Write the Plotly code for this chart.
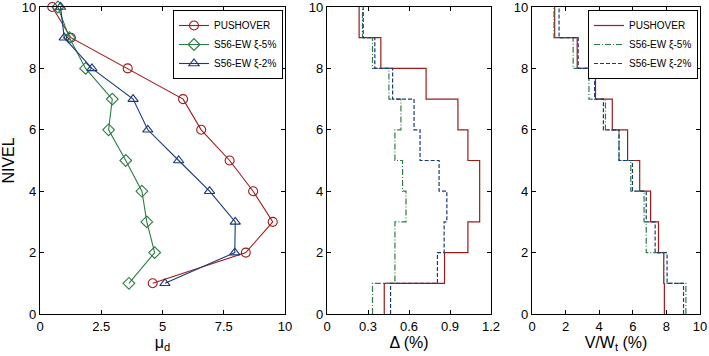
import plotly.graph_objects as go

# ---------------- data ----------------
niveles = [1, 2, 3, 4, 5, 6, 7, 8, 9, 10]
stories_edges = [0, 1, 2, 3, 4, 5, 6, 7, 8, 9, 10]

# Panel 1: ductility demand mu_d per level
mu_push = [4.6, 8.4, 9.5, 8.7, 7.74, 6.58, 5.84, 3.58, 1.26, 0.5]
mu_x5 = [3.63, 4.68, 4.36, 4.16, 3.5, 2.8, 2.95, 1.86, 1.2, 0.73]
mu_x2 = [5.1, 7.95, 7.97, 6.92, 5.66, 4.4, 3.8, 2.12, 0.99, 0.84]

# Panel 2: interstory drift (%) per story (story 1 .. 10)
drift_push = [0.419, 0.86, 1.031, 1.117, 1.117, 1.031, 0.958, 0.725, 0.394, 0.235]
drift_x5 = [0.333, 0.497, 0.497, 0.578, 0.553, 0.497, 0.541, 0.453, 0.333, 0.26]
drift_x2 = [0.465, 0.808, 0.857, 0.877, 0.82, 0.681, 0.637, 0.48, 0.35, 0.265]

# Panel 3: story shear V/Wt (%) per story
shear_push = [7.88, 7.84, 7.53, 7.06, 6.41, 5.69, 4.78, 3.78, 2.69, 1.35]
shear_x5 = [9.16, 7.84, 6.8, 6.67, 5.88, 5.18, 4.37, 3.39, 2.45, 1.31]
shear_x2 = [9.02, 8.04, 7.33, 6.8, 5.98, 5.18, 4.25, 3.73, 2.75, 1.61]

names = ["PUSHOVER", "S56-EW \u03be-5%", "S56-EW \u03be-2%"]
colors = ["#9E1B1B", "#2E7D46", "#1A3A7A"]
dashes = ["solid", "6px,2px,1px,2px", "4px,2px"]
symbols = ["circle-open", "diamond-open", "triangle-up-open"]

W, H = 709, 356
FONT = "Liberation Sans, Arial, sans-serif"

fig = go.Figure()

# Panel 1
for vals, nm, c, s in zip([mu_push, mu_x5, mu_x2], names, colors, symbols):
    fig.add_trace(go.Scatter(
        x=vals, y=niveles, mode="lines+markers", name=nm,
        line=dict(color=c, width=1.1),
        marker=dict(symbol=s, size=9, color=c, line=dict(color=c, width=1.1)),
        xaxis="x", yaxis="y", legend="legend", showlegend=True, cliponaxis=False))

def stairs(v):
    return list(v) + [v[-1]]

# Panel 2
for vals, nm, c, d in zip([drift_push, drift_x5, drift_x2], names, colors, dashes):
    fig.add_trace(go.Scatter(
        x=stairs(vals), y=stories_edges, mode="lines", name=nm,
        line=dict(color=c, width=1.2, dash=d, shape="vh"),
        xaxis="x2", yaxis="y2", showlegend=False))

# Panel 3
for vals, nm, c, d in zip([shear_push, shear_x5, shear_x2], names, colors, dashes):
    fig.add_trace(go.Scatter(
        x=stairs(vals), y=stories_edges, mode="lines", name=nm,
        line=dict(color=c, width=1.2, dash=d, shape="vh"),
        xaxis="x3", yaxis="y3", legend="legend2", showlegend=True))

def px_x(p):
    return p / W

def px_y(p):
    return 1 - p / H

ydom = [px_y(314), px_y(7)]
axcommon = dict(showgrid=False, zeroline=False, showline=True, linecolor="black",
                linewidth=1.3, mirror="ticks", ticks="inside", ticklen=4,
                tickcolor="black", automargin=False, ticklabeloverflow="allow",
                tickfont=dict(family=FONT, size=13, color="black"))

legcommon = dict(xanchor="right", yanchor="top",
                 bgcolor="white", bordercolor="black", borderwidth=1,
                 font=dict(family=FONT, size=10, color="black"), tracegroupgap=0,
                 itemwidth=30, traceorder="normal")

fig.update_layout(
    width=W, height=H, margin=dict(l=0, r=0, t=0, b=0),
    paper_bgcolor="white", plot_bgcolor="white",
    font=dict(family=FONT, color="black"),
    xaxis=dict(domain=[px_x(40), px_x(285)], range=[0, 10], tickvals=[0, 2.5, 5, 7.5, 10],
               ticktext=["0", "2.5", "5", "7.5", "10"],
               title=dict(text="\u03bc<sub>d</sub>", font=dict(size=16), standoff=2), anchor="y", **axcommon),
    yaxis=dict(domain=ydom, range=[0, 10], tickvals=[0, 2, 4, 6, 8, 10],
               title=dict(text="NIVEL", font=dict(size=16), standoff=6), anchor="x", **axcommon),
    xaxis2=dict(domain=[px_x(327), px_x(491)], range=[0, 1.2], tickvals=[0, 0.3, 0.6, 0.9, 1.2],
                ticktext=["0", "0.3", "0.6", "0.9", "1.2"],
                title=dict(text="\u0394 (%)", font=dict(size=16), standoff=2), anchor="y2", **axcommon),
    yaxis2=dict(domain=ydom, range=[0, 10], tickvals=[0, 2, 4, 6, 8, 10], anchor="x2", **axcommon),
    xaxis3=dict(domain=[px_x(532), px_x(700)], range=[0, 10], tickvals=[0, 2, 4, 6, 8, 10],
                title=dict(text="V/W<sub>t</sub> (%)", font=dict(size=16), standoff=2), anchor="y3", **axcommon),
    yaxis3=dict(domain=ydom, range=[0, 10], tickvals=[0, 2, 4, 6, 8, 10], anchor="x3", **axcommon),
    legend=dict(x=px_x(283), y=px_y(10), **legcommon),
    legend2=dict(x=px_x(698), y=px_y(10), **legcommon),
)

fig.write_html("out.html", config={"displayModeBar": False},
               post_script="document.body.style.margin='0';document.body.style.overflow='hidden';")
